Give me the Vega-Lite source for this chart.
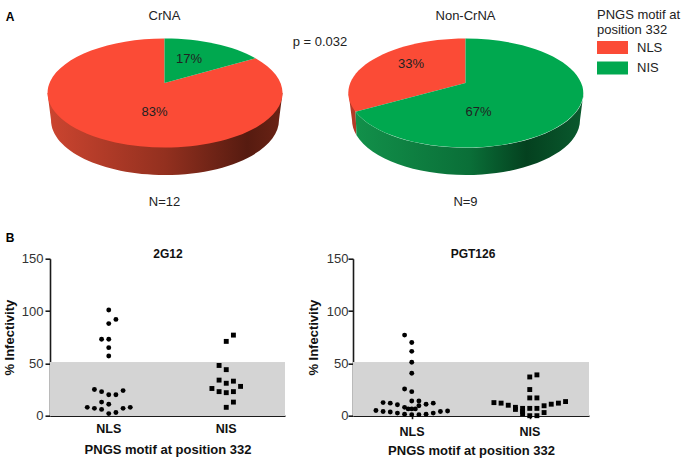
{
"$schema":"https://vega.github.io/schema/vega-lite/v6.json",
"background":"white",
"padding":{"left":3,"top":8,"right":0,"bottom":0},
"bounds":"flush",
"spacing":250.7,
"resolve":{"scale":{"shape":"independent","color":"independent"},"legend":{"color":"independent","shape":"independent"}},
"config":{"view":{"stroke":null},"font":"Liberation Sans",
 "text":{"font":"Liberation Sans","fontSize":13,"color":"#222222","baseline":"middle"},
 "title":{"font":"Liberation Sans"},
 "axis":{"labelFont":"Liberation Sans","titleFont":"Liberation Sans","grid":false,"domainColor":"#1a1a1a","domainWidth":1.6,"tickColor":"#1a1a1a","tickWidth":1.6,"zindex":1}},
"datasets":{
 "crna":[{"group":"CrNA","motif":"NLS","percent":83,"label":"83%","n":"N=12"},{"group":"CrNA","motif":"NIS","percent":17,"label":"17%","n":"N=12"}],
 "non":[{"group":"Non-CrNA","motif":"NLS","percent":33,"label":"33%","n":"N=9"},{"group":"Non-CrNA","motif":"NIS","percent":67,"label":"67%","n":"N=9"}],
 "g12":[
 {"motif":"NLS","slot":0,"infectivity":101},{"motif":"NLS","slot":1,"infectivity":92},{"motif":"NLS","slot":0,"infectivity":88},{"motif":"NLS","slot":-1,"infectivity":73},{"motif":"NLS","slot":0,"infectivity":73},{"motif":"NLS","slot":0,"infectivity":65},{"motif":"NLS","slot":0,"infectivity":57},{"motif":"NLS","slot":-2,"infectivity":25},{"motif":"NLS","slot":-1,"infectivity":23},{"motif":"NLS","slot":0,"infectivity":20},{"motif":"NLS","slot":1,"infectivity":20},{"motif":"NLS","slot":2,"infectivity":24},{"motif":"NLS","slot":-1,"infectivity":13},{"motif":"NLS","slot":0,"infectivity":11},{"motif":"NLS","slot":-3,"infectivity":8},{"motif":"NLS","slot":-2,"infectivity":7},{"motif":"NLS","slot":-1,"infectivity":6},{"motif":"NLS","slot":0,"infectivity":2},{"motif":"NLS","slot":1,"infectivity":3},{"motif":"NLS","slot":2,"infectivity":7},{"motif":"NLS","slot":3,"infectivity":8},
 {"motif":"NIS","slot":1,"infectivity":77},{"motif":"NIS","slot":0,"infectivity":71},{"motif":"NIS","slot":-1,"infectivity":48},{"motif":"NIS","slot":0,"infectivity":44},{"motif":"NIS","slot":-1,"infectivity":34},{"motif":"NIS","slot":0,"infectivity":31},{"motif":"NIS","slot":1,"infectivity":33},{"motif":"NIS","slot":2,"infectivity":28},{"motif":"NIS","slot":-2,"infectivity":26},{"motif":"NIS","slot":-1,"infectivity":23},{"motif":"NIS","slot":0,"infectivity":22},{"motif":"NIS","slot":1,"infectivity":23},{"motif":"NIS","slot":1,"infectivity":13},{"motif":"NIS","slot":0,"infectivity":8}],
 "pgt":[
 {"motif":"NLS","slot":-1,"infectivity":77},{"motif":"NLS","slot":0,"infectivity":70},{"motif":"NLS","slot":0,"infectivity":61.5},{"motif":"NLS","slot":0,"infectivity":51},{"motif":"NLS","slot":0,"infectivity":40.5},{"motif":"NLS","slot":-1,"infectivity":25.5},{"motif":"NLS","slot":0,"infectivity":23},{"motif":"NLS","slot":0,"infectivity":14},{"motif":"NLS","slot":1,"infectivity":14},{"motif":"NLS","slot":-4,"infectivity":12.5},{"motif":"NLS","slot":-3,"infectivity":12},{"motif":"NLS","slot":-2,"infectivity":10.5},{"motif":"NLS","slot":2,"infectivity":11},{"motif":"NLS","slot":3,"infectivity":12},{"motif":"NLS","slot":-1,"infectivity":8},{"motif":"NLS","slot":-0.5,"infectivity":6.5},{"motif":"NLS","slot":0,"infectivity":6.5},{"motif":"NLS","slot":0.5,"infectivity":6.5},{"motif":"NLS","slot":1,"infectivity":9.5},{"motif":"NLS","slot":-5,"infectivity":5},{"motif":"NLS","slot":-4,"infectivity":4},{"motif":"NLS","slot":-3,"infectivity":3.5},{"motif":"NLS","slot":-2,"infectivity":2.5},{"motif":"NLS","slot":-1,"infectivity":1.5},{"motif":"NLS","slot":0,"infectivity":1},{"motif":"NLS","slot":1,"infectivity":1},{"motif":"NLS","slot":2,"infectivity":1.5},{"motif":"NLS","slot":3,"infectivity":2.5},{"motif":"NLS","slot":4,"infectivity":4},{"motif":"NLS","slot":5,"infectivity":4.5},
 {"motif":"NIS","slot":0,"infectivity":37},{"motif":"NIS","slot":1,"infectivity":39},{"motif":"NIS","slot":0,"infectivity":25},{"motif":"NIS","slot":0,"infectivity":17},{"motif":"NIS","slot":1,"infectivity":17},{"motif":"NIS","slot":-5,"infectivity":12.5},{"motif":"NIS","slot":-4,"infectivity":12},{"motif":"NIS","slot":-3,"infectivity":10},{"motif":"NIS","slot":-2,"infectivity":8},{"motif":"NIS","slot":-2,"infectivity":6},{"motif":"NIS","slot":-1,"infectivity":7},{"motif":"NIS","slot":-1,"infectivity":4},{"motif":"NIS","slot":-1,"infectivity":2},{"motif":"NIS","slot":0,"infectivity":7},{"motif":"NIS","slot":1,"infectivity":7},{"motif":"NIS","slot":2,"infectivity":9.5},{"motif":"NIS","slot":2,"infectivity":3},{"motif":"NIS","slot":3,"infectivity":11},{"motif":"NIS","slot":4,"infectivity":12},{"motif":"NIS","slot":5,"infectivity":13.5},{"motif":"NIS","slot":0,"infectivity":0},{"motif":"NIS","slot":1,"infectivity":0}]
},
"vconcat":[
{"bounds":"flush","spacing":74,"resolve":{"scale":{"shape":"independent","color":"independent"},"legend":{"color":"independent","shape":"independent"}},"hconcat":[
 {"width":229,"height":150,"data":{"name":"crna"},"layer":[
  {"transform":[{"filter":"datum.motif==='NLS'"}],"mark":{"type":"point","filled":true,"opacity":1,"size":4,"strokeWidth":0,"shape":"M-117,10 L-113.5,37 A114,55 0 0 0 114.5,37 L118,10 Z","fill":{"gradient":"linear","x1":0,"x2":1,"y1":0,"y2":0,"stops":[{"offset":0,"color":"#CC4530"},{"offset":0.5,"color":"#93301F"},{"offset":0.85,"color":"#561B10"},{"offset":1,"color":"#6B2315"}]}},"encoding":{}},
  {"transform":[{"filter":"datum.motif==='NLS'"}],"mark":{"type":"point","filled":true,"opacity":1,"size":4,"strokeWidth":0,"shape":"M0,0 L91,-24.8 A117.5,54.5 0 1 1 0,-44.5 Z"},"encoding":{
    "color":{"field":"motif","type":"nominal","scale":{"domain":["NLS","NIS"],"range":["#FB4B36","#00A84F"]},"legend":null}}},
  {"transform":[{"filter":"datum.motif==='NIS'"}],"mark":{"type":"point","filled":true,"opacity":1,"size":4,"strokeWidth":0,"shape":"M0,0 L0,-44.5 A117.5,54.5 0 0 1 91,-24.8 Z"},"encoding":{
    "color":{"field":"motif","type":"nominal","scale":{"domain":["NLS","NIS"],"range":["#FB4B36","#00A84F"]},"legend":null}}},
  {"transform":[{"filter":"datum.motif==='NLS'"}],"mark":{"type":"text","dx":-10,"dy":29},"encoding":{"text":{"field":"label"}}},
  {"transform":[{"filter":"datum.motif==='NIS'"}],"mark":{"type":"text","dx":24.5,"dy":-24},"encoding":{"text":{"field":"label"}}},
  {"transform":[{"filter":"datum.motif==='NIS'"}],"mark":{"type":"text","dy":-67},"encoding":{"text":{"field":"group"}}},
  {"transform":[{"filter":"datum.motif==='NIS'"}],"mark":{"type":"text","dy":119},"encoding":{"text":{"field":"n"}}},
  {"data":{"values":[{"note":"p = 0.032"}]},"mark":{"type":"text","dx":155.5,"dy":-41},"encoding":{"text":{"field":"note"}}},
  {"data":{"values":[{"panel":"A"}]},"mark":{"type":"text","dx":-154.5,"dy":-66,"fontWeight":"bold","fontSize":12,"color":"#000000"},"encoding":{"text":{"field":"panel"}}},
  {"data":{"values":[{"panel":"B"}]},"mark":{"type":"text","dx":-154.5,"dy":154.7,"fontWeight":"bold","fontSize":12,"color":"#000000"},"encoding":{"text":{"field":"panel"}}}
 ]},
 {"width":225,"height":150,"data":{"name":"non"},"layer":[
  {"transform":[{"filter":"datum.motif==='NLS'"}],"mark":{"type":"point","filled":true,"opacity":1,"size":4,"strokeWidth":0,"shape":"M-117,10 L-113.5,37 A114,55 0 0 0 -109,52.3 L-110,28.8 Z","fill":"#B23A27"},"encoding":{}},
  {"transform":[{"filter":"datum.motif==='NIS'"}],"mark":{"type":"point","filled":true,"opacity":1,"size":4,"strokeWidth":0,"shape":"M-110,28.8 A117.5,54.5 0 0 0 118,10 L114.5,37 A114,55 0 0 1 -109,52.3 Z","fill":{"gradient":"linear","x1":0,"x2":1,"y1":0,"y2":0,"stops":[{"offset":0,"color":"#12904A"},{"offset":0.5,"color":"#0A6F38"},{"offset":0.75,"color":"#04411F"},{"offset":1,"color":"#0A5A2E"}]}},"encoding":{}},
  {"transform":[{"filter":"datum.motif==='NLS'"}],"mark":{"type":"point","filled":true,"opacity":1,"size":4,"strokeWidth":0,"shape":"M0,0 L0,-44.5 A117.5,54.5 0 0 0 -110,28.8 Z"},"encoding":{
    "color":{"field":"motif","type":"nominal","scale":{"domain":["NLS","NIS"],"range":["#FB4B36","#00A84F"]},
      "legend":{"orient":"none","legendX":244,"legendY":1,"title":["PNGS motif at","position 332"],"titleFont":"Liberation Sans","titleFontSize":13,"titleFontWeight":"normal","titleLineHeight":15,"titleColor":"#222222","titlePadding":4,"labelFont":"Liberation Sans","labelFontSize":13,"labelColor":"#222222","labelOffset":27,"symbolType":"M-1,-1H3.77V1H-1Z","symbolSize":169,"symbolStrokeWidth":0,"rowPadding":6.5}}}},
  {"transform":[{"filter":"datum.motif==='NIS'"}],"mark":{"type":"point","filled":true,"opacity":1,"size":4,"strokeWidth":0,"shape":"M0,0 L-110,28.8 A117.5,54.5 0 1 0 0,-44.5 Z"},"encoding":{
    "color":{"field":"motif","type":"nominal","scale":{"domain":["NLS","NIS"],"range":["#FB4B36","#00A84F"]}}}},
  {"transform":[{"filter":"datum.motif==='NLS'"}],"mark":{"type":"text","dx":-54.5,"dy":-19},"encoding":{"text":{"field":"label"}}},
  {"transform":[{"filter":"datum.motif==='NIS'"}],"mark":{"type":"text","dx":13,"dy":29},"encoding":{"text":{"field":"label"}}},
  {"transform":[{"filter":"datum.motif==='NIS'"}],"mark":{"type":"text","dy":-67},"encoding":{"text":{"field":"group"}}},
  {"transform":[{"filter":"datum.motif==='NIS'"}],"mark":{"type":"text","dy":119},"encoding":{"text":{"field":"n"}}}
 ]}
]},
{"bounds":"flush","spacing":68,"resolve":{"scale":{"shape":"independent","color":"independent"},"legend":{"color":"independent","shape":"independent"}},"hconcat":[
 {"width":235,"height":157,"data":{"name":"g12"},"layer":[
  {"mark":{"type":"rect","color":"#D4D4D4"},"encoding":{"y":{"datum":0,"type":"quantitative","scale":{"domain":[0,150],"nice":false}},"y2":{"datum":51}}},
  {"data":{"values":[{"antibody":"2G12"}]},"mark":{"type":"text","dx":0.5,"dy":-83.5,"fontWeight":"bold","fontSize":12,"color":"#111111"},"encoding":{"text":{"field":"antibody"}}},
  {"mark":{"type":"point","filled":true,"opacity":1,"size":24,"color":"#000000"},"encoding":{
   "x":{"field":"motif","type":"nominal","scale":{"type":"band","domain":["NLS","NIS"],"paddingInner":0,"paddingOuter":0},"axis":{"labelAngle":0,"ticks":false,"labelFontSize":12.5,"labelFontWeight":"bold","labelColor":"#111111","labelPadding":7,"title":"PNGS motif at position 332","titleFontSize":13,"titleFontWeight":"bold","titleColor":"#111111","titlePadding":8}},
   "xOffset":{"field":"slot","type":"quantitative","scale":{"domain":[-8.2,8.2]}},
   "y":{"field":"infectivity","type":"quantitative","scale":{"domain":[0,150],"nice":false},"axis":{"values":[0,50,100,150],"tickSize":5,"labelFontSize":13,"labelColor":"#333333","labelPadding":2,"title":"% Infectivity","titleFontSize":13,"titleFontWeight":"bold","titleColor":"#111111","titlePadding":5}},
   "shape":{"field":"motif","type":"nominal","scale":{"domain":["NLS","NIS"],"range":["circle","square"]},"legend":null}}}
 ]},
 {"width":236,"height":157,"data":{"name":"pgt"},"layer":[
  {"mark":{"type":"rect","color":"#D4D4D4"},"encoding":{"y":{"datum":0,"type":"quantitative","scale":{"domain":[0,150],"nice":false}},"y2":{"datum":51}}},
  {"data":{"values":[{"antibody":"PGT126"}]},"mark":{"type":"text","dx":2,"dy":-83.5,"fontWeight":"bold","fontSize":12,"color":"#111111"},"encoding":{"text":{"field":"antibody"}}},
  {"mark":{"type":"point","filled":true,"opacity":1,"size":24,"color":"#000000"},"encoding":{
   "x":{"field":"motif","type":"nominal","scale":{"type":"band","domain":["NLS","NIS"],"paddingInner":0,"paddingOuter":0},"axis":{"labelAngle":0,"tickSize":3,"labelFontSize":12.5,"labelFontWeight":"bold","labelColor":"#111111","labelPadding":7,"title":"PNGS motif at position 332","titleFontSize":13,"titleFontWeight":"bold","titleColor":"#111111","titlePadding":6}},
   "xOffset":{"field":"slot","type":"quantitative","scale":{"domain":[-8.2,8.2]}},
   "y":{"field":"infectivity","type":"quantitative","scale":{"domain":[0,150],"nice":false},"axis":{"values":[0,50,100,150],"tickSize":5,"labelFontSize":13,"labelColor":"#333333","labelPadding":0,"title":"% Infectivity","titleFontSize":13,"titleFontWeight":"bold","titleColor":"#111111","titlePadding":6}},
   "shape":{"field":"motif","type":"nominal","scale":{"domain":["NLS","NIS"],"range":["circle","square"]},"legend":null}}}
 ]}
]}
]
}
